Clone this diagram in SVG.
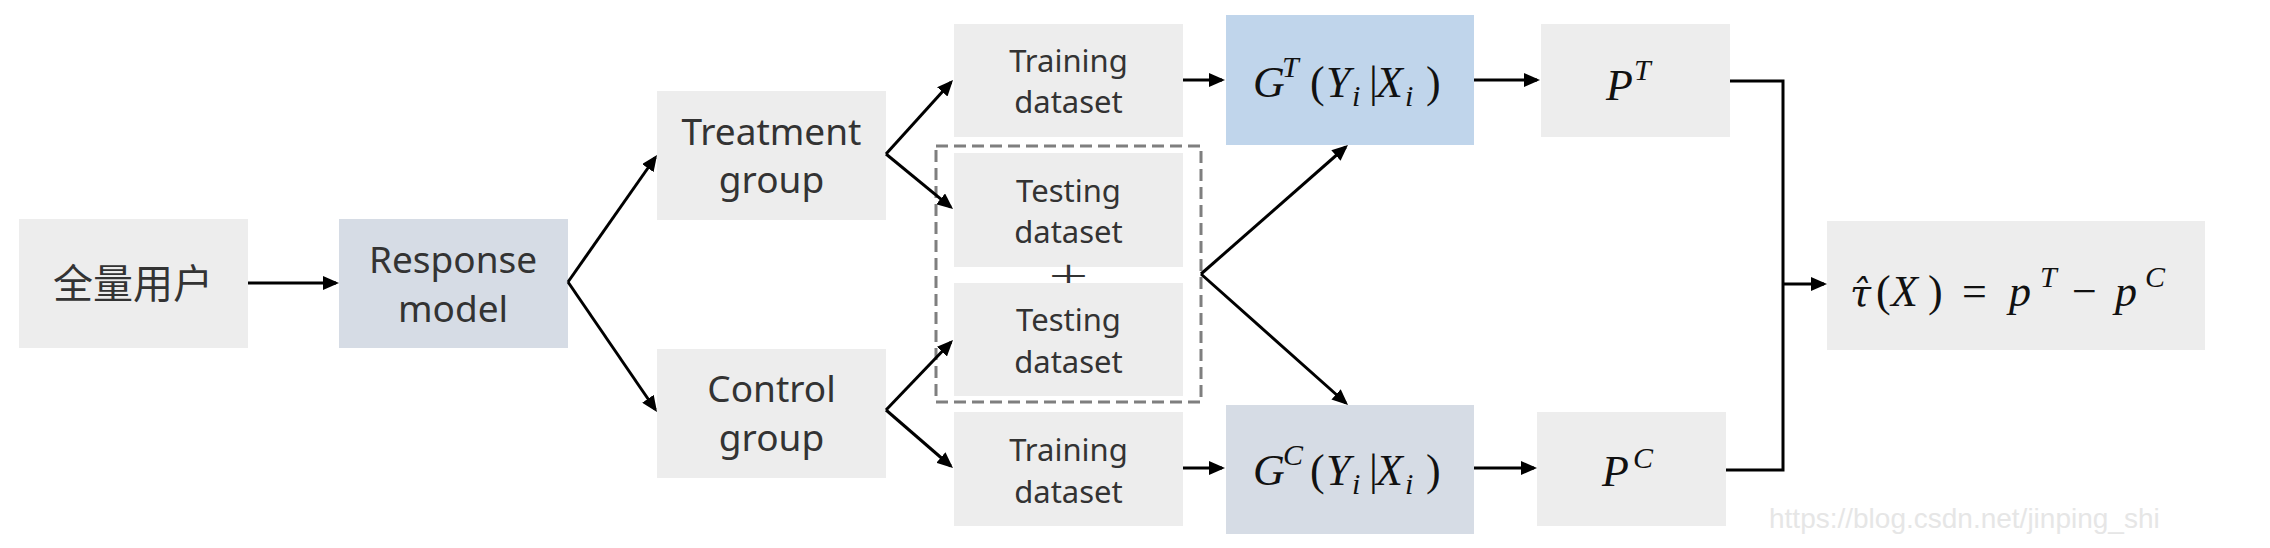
<svg xmlns="http://www.w3.org/2000/svg" width="2270" height="548" viewBox="0 0 2270 548">
<style>
.bg{fill:#ededed}
.blue{fill:#c0d5eb}
.slate{fill:#d6dce5}
.lbl{font-family:'Noto Sans','Noto Sans CJK SC',sans-serif;fill:#333;text-anchor:middle}
.big{font-size:37px}
.small{font-size:31px}
.cjk{font-family:'Noto Sans CJK SC','Noto Sans',sans-serif;font-size:40px;fill:#333;text-anchor:middle}
.plus{font-family:'Noto Sans CJK SC',sans-serif;font-size:30px;fill:#333}
.math{font-family:'Liberation Serif','DejaVu Serif',serif;font-size:44px;fill:#111}
.it{font-style:italic}
.sup{font-style:italic;font-size:30px}
.tau{font-family:'DejaVu Serif',serif;font-style:italic;font-size:38px}
.conn{stroke:#000;stroke-width:3;fill:none}
.dash{stroke:#7f7f7f;stroke-width:3;fill:none;stroke-dasharray:12 6}
.wm{font-family:'Liberation Sans',Arial,sans-serif;font-size:28px;fill:#e6e6e6}
</style>
<defs>
<marker id="ah" markerUnits="userSpaceOnUse" markerWidth="16" markerHeight="14" refX="13" refY="7" orient="auto">
<path d="M0,0 L16,7 L0,14 z" fill="#000"/>
</marker>
</defs>
<rect width="2270" height="548" fill="#fff"/>

<g id="all-users">
<rect class="bg" x="19" y="219" width="229" height="129"/>
<text class="cjk" x="133" y="298">全量用户</text>
</g>
<g id="response-model">
<rect class="slate" x="339" y="219" width="229" height="129"/>
<text class="lbl big" x="453" y="273">Response</text>
<text class="lbl big" x="453" y="322">model</text>
</g>
<g id="treatment-group">
<rect class="bg" x="657" y="91" width="229" height="129"/>
<text class="lbl big" x="771.5" y="145">Treatment</text>
<text class="lbl big" x="771.5" y="193">group</text>
</g>
<g id="control-group">
<rect class="bg" x="657" y="349" width="229" height="129"/>
<text class="lbl big" x="771.5" y="402">Control</text>
<text class="lbl big" x="771.5" y="451">group</text>
</g>
<g id="training-t">
<rect class="bg" x="954" y="24" width="229" height="113"/>
<text class="lbl small" x="1068.5" y="72">Training</text>
<text class="lbl small" x="1068.5" y="113">dataset</text>
</g>
<g id="testing-box">
<rect class="dash" x="936" y="146" width="265" height="256"/>
</g>
<g id="testing-t">
<rect class="bg" x="954" y="153" width="229" height="114"/>
<text class="lbl small" x="1068.5" y="202">Testing</text>
<text class="lbl small" x="1068.5" y="243">dataset</text>
</g>
<g id="plus">
<text class="plus" x="1046" y="286.5" textLength="45" lengthAdjust="spacingAndGlyphs">＋</text>
</g>
<g id="testing-c">
<rect class="bg" x="954" y="283" width="229" height="113"/>
<text class="lbl small" x="1068.5" y="331">Testing</text>
<text class="lbl small" x="1068.5" y="373">dataset</text>
</g>
<g id="training-c">
<rect class="bg" x="954" y="412" width="229" height="114"/>
<text class="lbl small" x="1068.5" y="461">Training</text>
<text class="lbl small" x="1068.5" y="503">dataset</text>
</g>
<g id="model-t">
<rect class="blue" x="1226" y="15" width="248" height="130"/>
<text class="math" y="97"><tspan class="it" x="1253">G</tspan><tspan class="sup" x="1282" dy="-20">T</tspan><tspan x="1310" dy="20">(</tspan><tspan class="it" x="1326">Y</tspan><tspan class="sup" x="1352" dy="9">i</tspan><tspan x="1369" dy="-9">|</tspan><tspan class="it" x="1376">X</tspan><tspan class="sup" x="1405" dy="9">i</tspan><tspan x="1426" dy="-9">)</tspan></text>
</g>
<g id="model-c">
<rect class="slate" x="1226" y="405" width="248" height="129"/>
<text class="math" y="485"><tspan class="it" x="1253">G</tspan><tspan class="sup" x="1283" dy="-20">C</tspan><tspan x="1310" dy="20">(</tspan><tspan class="it" x="1326">Y</tspan><tspan class="sup" x="1352" dy="9">i</tspan><tspan x="1369" dy="-9">|</tspan><tspan class="it" x="1376">X</tspan><tspan class="sup" x="1405" dy="9">i</tspan><tspan x="1426" dy="-9">)</tspan></text>
</g>
<g id="p-t">
<rect class="bg" x="1541" y="24" width="189" height="113"/>
<text class="math" y="100"><tspan class="it" x="1606">P</tspan><tspan class="sup" x="1634" dy="-20">T</tspan></text>
</g>
<g id="p-c">
<rect class="bg" x="1537" y="412" width="189" height="114"/>
<text class="math" y="486"><tspan class="it" x="1602">P</tspan><tspan class="sup" x="1633" dy="-18">C</tspan></text>
</g>
<g id="uplift">
<rect class="bg" x="1827" y="221" width="378" height="129"/>
<text class="math" y="306"><tspan class="tau" x="1850">τ̂</tspan><tspan x="1876">(</tspan><tspan class="it" x="1891">X</tspan><tspan x="1928">)</tspan><tspan x="1962">=</tspan><tspan class="it" x="2009">p</tspan><tspan class="sup" x="2040" dy="-19">T</tspan><tspan x="2072" dy="19">−</tspan><tspan class="it" x="2115">p</tspan><tspan class="sup" x="2145" dy="-19">C</tspan></text>
</g>

<g id="connectors">
<line class="conn" x1="248" y1="283" x2="336" y2="283" marker-end="url(#ah)"/>
<line class="conn" x1="568" y1="282" x2="655.3" y2="157.5" marker-end="url(#ah)"/>
<line class="conn" x1="568" y1="282" x2="655.3" y2="409.5" marker-end="url(#ah)"/>
<line class="conn" x1="886" y1="154" x2="951" y2="82.2" marker-end="url(#ah)"/>
<line class="conn" x1="886" y1="154" x2="950.7" y2="207.1" marker-end="url(#ah)"/>
<line class="conn" x1="886" y1="410" x2="950.9" y2="342.2" marker-end="url(#ah)"/>
<line class="conn" x1="886" y1="410" x2="950.7" y2="466" marker-end="url(#ah)"/>
<line class="conn" x1="1183" y1="80" x2="1222" y2="80" marker-end="url(#ah)"/>
<line class="conn" x1="1183" y1="468" x2="1222" y2="468" marker-end="url(#ah)"/>
<line class="conn" x1="1201" y1="274" x2="1345.7" y2="147" marker-end="url(#ah)"/>
<line class="conn" x1="1201" y1="274" x2="1345.8" y2="403" marker-end="url(#ah)"/>
<line class="conn" x1="1474" y1="80" x2="1537" y2="80" marker-end="url(#ah)"/>
<line class="conn" x1="1474" y1="468" x2="1534" y2="468" marker-end="url(#ah)"/>
<polyline class="conn" points="1730,81 1783,81 1783,470 1726,470"/>
<line class="conn" x1="1783" y1="284" x2="1824" y2="284" marker-end="url(#ah)"/>
</g>

<text class="wm" x="1769" y="528">https://blog.csdn.net/jinping_shi</text>
</svg>
